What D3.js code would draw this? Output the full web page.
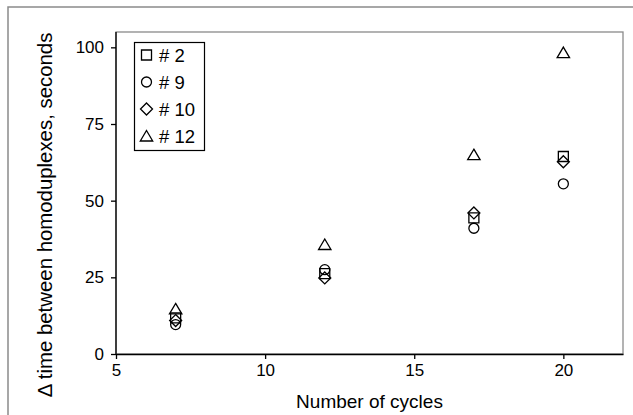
<!DOCTYPE html>
<html>
<head>
<meta charset="utf-8">
<script src="https://cdn.jsdelivr.net/npm/d3@7"></script>
<style>
  html, body { margin: 0; padding: 0; background: #fff; }
  svg { display: block; font-family: "Liberation Sans", Arial, sans-serif; }
</style>
</head>
<body>
<svg id="chart" width="633" height="415"></svg>
<script>
// Number of PCR cycles (x) and delta time per sample (y, seconds)
const cycles = [7, 12, 17, 20];
const sample2 = [11.8, 26.2, 44.4, 64.4];
const sample9 = [9.6, 27.5, 41.0, 55.5];
const sample10 = [10.9, 24.8, 46.0, 62.7];
const sample12 = [14.7, 35.7, 65.0, 98.3];
const seriesNames = ["# 2", "# 9", "# 10", "# 12"];
const xTicks = [5, 10, 15, 20];
const yTicks = [0, 25, 50, 75, 100];

const svg = d3.select("#chart");
const W = 633, H = 415;
const plot = { left: 116, top: 32, right: 623, bottom: 354 };

const x = d3.scaleLinear().domain([5, 22]).range([plot.left, plot.right]);
const y = d3.scaleLinear().domain([0, 105]).range([plot.bottom, plot.top]);

// outer chart frame
svg.append("rect")
  .attr("x", 8).attr("y", 7)
  .attr("width", W + 10).attr("height", H + 10)
  .attr("fill", "none").attr("stroke", "#8a8a8a").attr("stroke-width", 1.5);

// plot area frame (gray), axes drawn on top in black
svg.append("rect")
  .attr("x", plot.left).attr("y", plot.top)
  .attr("width", plot.right - plot.left).attr("height", plot.bottom - plot.top)
  .attr("fill", "none").attr("stroke", "#8a8a8a").attr("stroke-width", 1.3);

const xAxis = svg.append("g")
  .attr("transform", `translate(0,${plot.bottom})`)
  .call(d3.axisBottom(x).tickValues(xTicks).tickSize(5).tickSizeOuter(0).tickPadding(5));
const yAxis = svg.append("g")
  .attr("transform", `translate(${plot.left},0)`)
  .call(d3.axisLeft(y).tickValues(yTicks).tickSize(5).tickSizeOuter(0).tickPadding(7));

[xAxis, yAxis].forEach(g => {
  g.select(".domain").attr("stroke", "#000").attr("stroke-width", 1.3);
  g.selectAll(".tick line").attr("stroke", "#000").attr("stroke-width", 1.3);
  g.selectAll(".tick text")
    .attr("fill", "#000")
    .style("font-family", "'Liberation Sans', Arial, sans-serif")
    .style("font-size", "17px");
});
// left axis domain spans the full plot height
yAxis.select(".domain").attr("d", `M0,${plot.bottom}V${plot.top}`);

// axis titles
svg.append("text")
  .attr("x", (plot.left + plot.right) / 2).attr("y", 408)
  .attr("text-anchor", "middle")
  .style("font-size", "19px")
  .text("Number of cycles");
svg.append("text")
  .attr("transform", "translate(52,215) rotate(-90) scale(1.045,1)")
  .attr("text-anchor", "middle")
  .style("font-size", "19.5px")
  .text("Δ time between homoduplexes, seconds");

// outline marker shapes
const shapes = {
  square: { draw(c) { c.moveTo(-5, -5); c.lineTo(5, -5); c.lineTo(5, 5); c.lineTo(-5, 5); c.closePath(); } },
  circle: { draw(c) { c.moveTo(5, 0); c.arc(0, 0, 5, 0, 2 * Math.PI); } },
  diamond: { draw(c) { c.moveTo(0, -6); c.lineTo(6, 0); c.lineTo(0, 6); c.lineTo(-6, 0); c.closePath(); } },
  triangle: { draw(c) { c.moveTo(0, -5.5); c.lineTo(6.2, 5); c.lineTo(-6.2, 5); c.closePath(); } }
};

const series = [
  { name: seriesNames[0], values: sample2, shape: shapes.square },
  { name: seriesNames[1], values: sample9, shape: shapes.circle },
  { name: seriesNames[2], values: sample10, shape: shapes.diamond },
  { name: seriesNames[3], values: sample12, shape: shapes.triangle }
];

series.forEach(s => {
  svg.append("g").selectAll("path")
    .data(cycles.map((c, i) => ({ c, v: s.values[i] })))
    .join("path")
    .attr("transform", d => `translate(${x(d.c)},${y(d.v)})`)
    .attr("d", d3.symbol(s.shape))
    .attr("fill", "none")
    .attr("stroke", "#000")
    .attr("stroke-width", 1.3);
});

// legend
const legend = svg.append("g");
legend.append("rect")
  .attr("x", 134.5).attr("y", 42.5).attr("width", 70).attr("height", 108)
  .attr("fill", "#fff").attr("stroke", "#000").attr("stroke-width", 1.2);
series.forEach((s, i) => {
  const cy = 55 + i * 27;
  legend.append("path")
    .attr("transform", `translate(146.5,${cy})`)
    .attr("d", d3.symbol(s.shape))
    .attr("fill", "none").attr("stroke", "#000").attr("stroke-width", 1.3);
  legend.append("text")
    .attr("x", 159).attr("y", cy + 6.5)
    .style("font-size", "18.5px")
    .text(s.name);
});
</script>
</body>
</html>
